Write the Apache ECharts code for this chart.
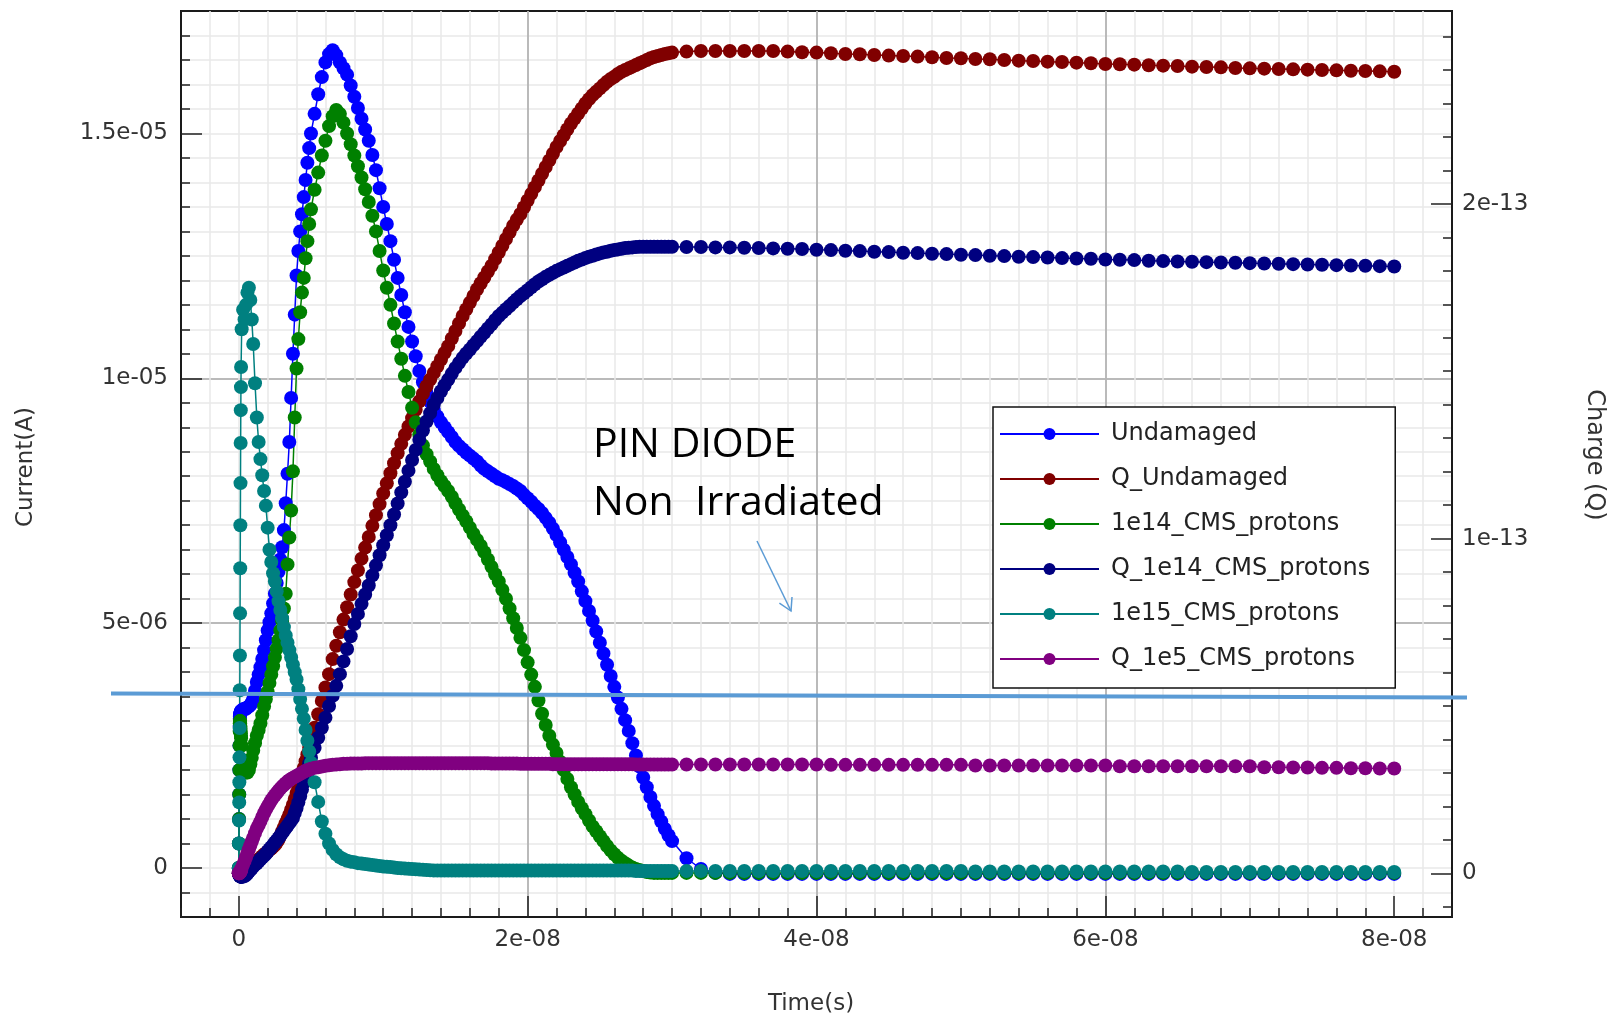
<!DOCTYPE html>
<html>
<head>
<meta charset="utf-8">
<title>PIN diode transient current and charge</title>
<script src="https://cdn.jsdelivr.net/npm/echarts@6/dist/echarts.min.js"></script>
<style>
  html, body { margin: 0; padding: 0; background: #fff; }
  #chart { width: 1611px; height: 1017px; }
</style>
</head>
<body>
<div id="chart"></div>
<script>
// time in ns, currents in uA, charges in units of 1e-14 C
const timeNs = [
  0, 0.01, 0.02, 0.03, 0.04, 0.05, 0.06, 0.07, 0.08, 0.09, 0.1, 0.11, 0.12, 0.13, 0.14, 0.15, 0.16,
  0.2, 0.3, 0.4, 0.5, 0.6, 0.7, 0.8, 0.9,
  1, 1.125, 1.25, 1.375, 1.5, 1.625, 1.75, 1.875, 2, 2.125, 2.25, 2.375, 2.5, 2.625, 2.75, 2.875,
  3, 3.125, 3.25, 3.375, 3.5, 3.625, 3.75, 3.875, 4, 4.125, 4.25, 4.375, 4.5, 4.625, 4.75, 4.875, 5,
  5.25, 5.5, 5.75, 6, 6.25, 6.5, 6.75, 7,
  7.25, 7.5, 7.75, 8, 8.25, 8.5, 8.75, 9, 9.25, 9.5, 9.75, 10, 10.25, 10.5, 10.75, 11,
  11.25, 11.5, 11.75, 12, 12.25, 12.5, 12.75, 13, 13.25, 13.5, 13.75, 14, 14.25, 14.5, 14.75, 15,
  15.25, 15.5, 15.75, 16, 16.25, 16.5, 16.75, 17, 17.25, 17.5, 17.75, 18, 18.25, 18.5, 18.75, 19,
  19.25, 19.5, 19.75, 20, 20.25, 20.5, 20.75, 21, 21.25, 21.5, 21.75, 22, 22.25, 22.5, 22.75, 23,
  23.25, 23.5, 23.75, 24, 24.25, 24.5, 24.75, 25, 25.25, 25.5, 25.75, 26, 26.25, 26.5, 26.75, 27,
  27.25, 27.5, 27.75, 28, 28.25, 28.5, 28.75, 29, 29.25, 29.5, 29.75, 30,
  31, 32, 33, 34, 35, 36, 37, 38, 39, 40, 41, 42, 43, 44, 45, 46, 47, 48, 49, 50,
  51, 52, 53, 54, 55, 56, 57, 58, 59, 60, 61, 62, 63, 64, 65, 66, 67, 68, 69, 70,
  71, 72, 73, 74, 75, 76, 77, 78, 79, 80
];

const iUndamaged = [
  0, 0.5, 1.0, 1.5, 2.0, 2.5, 2.9, 3.05, 3.1, 3.12, 3.14, 3.15, 3.16, 3.17, 3.18, 3.19, 3.2,
  3.22, 3.24, 3.25, 3.25, 3.28, 3.3, 3.33, 3.38,
  3.45, 3.62, 3.8, 3.95, 4.1, 4.27, 4.45, 4.65, 4.85, 5.02, 5.2, 5.4, 5.6, 5.82, 6.05, 6.3,
  6.55, 6.9, 7.45, 8.05, 8.7, 9.6, 10.5, 11.3, 12.1, 12.6, 13.0, 13.35, 13.7, 14.05, 14.4, 14.7, 15.0,
  15.4, 15.8, 16.15, 16.45, 16.62, 16.7, 16.6, 16.45,
  16.33, 16.2, 15.98, 15.75,  15.52, 15.3, 15.08, 14.85,  14.56, 14.25, 13.88, 13.5,  13.15, 12.8, 12.42, 12.05,
  11.7, 11.35, 11.05, 10.75,  10.45, 10.15, 9.92, 9.7,  9.52, 9.35, 9.22, 9.1,  9.0, 8.9, 8.8, 8.7,
  8.62, 8.55, 8.48, 8.42,  8.36, 8.3, 8.22, 8.15,  8.1, 8.05, 8.0, 7.95,  7.92, 7.88, 7.84, 7.8,
  7.75, 7.7, 7.62, 7.55,  7.48, 7.4, 7.33, 7.25,  7.15, 7.05, 6.93, 6.8,  6.65, 6.5, 6.35, 6.2,
  6.03, 5.85, 5.65, 5.45,  5.25, 5.05, 4.83, 4.6,  4.38, 4.15, 3.92, 3.7,  3.48, 3.25, 3.02, 2.8,
  2.55, 2.3, 2.07, 1.85,  1.65, 1.45, 1.27, 1.1,  0.95, 0.8, 0.67, 0.55,
  0.2, -0.02, -0.1, -0.12, -0.12, -0.12, -0.12, -0.12, -0.12, -0.12,
  -0.12, -0.12, -0.12, -0.12, -0.12, -0.12, -0.12, -0.12, -0.12, -0.12,
  -0.12, -0.12, -0.12, -0.12, -0.12, -0.12, -0.12, -0.12, -0.12, -0.12,
  -0.12, -0.12, -0.12, -0.12, -0.12, -0.12, -0.12, -0.12, -0.12, -0.12,
  -0.12, -0.12, -0.12, -0.12, -0.12, -0.12, -0.12, -0.12, -0.12, -0.12
];

const qUndamaged = [
  0, 0, 0, 0, 0, 0.01, 0.01, 0.01, 0.01, 0.02, 0.02, 0.02, 0.02, 0.03, 0.03, 0.03, 0.03,
  0.06, 0.09, 0.12, 0.15, 0.18, 0.2, 0.23, 0.26,
  0.29, 0.33, 0.37, 0.41, 0.46, 0.51, 0.56, 0.6, 0.65, 0.7, 0.74, 0.79, 0.84, 0.92, 1.0, 1.12,
  1.25, 1.37, 1.5, 1.62, 1.75, 1.9, 2.05, 2.22, 2.4, 2.57, 2.75, 2.95, 3.15, 3.35, 3.55, 3.75, 3.95,
  4.35, 4.75, 5.15, 5.55, 5.95, 6.4, 6.8, 7.2,
  7.58, 7.95, 8.33, 8.7,  9.05, 9.4, 9.73, 10.05,  10.38, 10.7, 11.03, 11.35,  11.65, 11.95, 12.25, 12.55,
  12.83, 13.1, 13.35, 13.6,  13.85, 14.1, 14.33, 14.55,  14.75, 14.95, 15.15, 15.35,  15.55, 15.75, 15.98, 16.2,
  16.43, 16.65, 16.85, 17.05,  17.25, 17.45, 17.63, 17.8,  17.98, 18.15, 18.35, 18.55,  18.75, 18.95, 19.15, 19.35,
  19.53, 19.7, 19.9, 20.1,  20.3, 20.5, 20.7, 20.9,  21.1, 21.3, 21.5, 21.7,  21.88, 22.05, 22.23, 22.4,
  22.55, 22.7, 22.85, 23.0,  23.13, 23.25, 23.35, 23.45,  23.55, 23.65, 23.73, 23.8,  23.88, 23.95, 24.0, 24.05,
  24.1, 24.15, 24.2, 24.25,  24.3, 24.35, 24.39, 24.42,  24.45, 24.48, 24.5, 24.52,
  24.55, 24.57, 24.57, 24.57, 24.57, 24.57, 24.57, 24.55, 24.53, 24.52,
  24.5, 24.48, 24.47, 24.45, 24.43, 24.42, 24.4, 24.38, 24.36, 24.35,
  24.33, 24.32, 24.3, 24.28, 24.27, 24.25, 24.24, 24.22, 24.2, 24.18,
  24.17, 24.16, 24.14, 24.13, 24.12, 24.1, 24.09, 24.08, 24.06, 24.05,
  24.04, 24.03, 24.02, 24.01, 24.0, 23.99, 23.98, 23.97, 23.96, 23.95
];

const i1e14 = [
  0, 0.5, 1.0, 1.5, 2.0, 2.5, 2.8, 2.95, 3.0, 3.0, 2.95, 2.9, 2.85, 2.8, 2.75, 2.7, 2.65,
  2.5, 2.2, 2.05, 1.95, 1.95, 2.0, 2.12, 2.25,
  2.4, 2.55, 2.7, 2.82, 2.95, 3.12, 3.3, 3.45, 3.6, 3.78, 3.95, 4.12, 4.3, 4.48, 4.65, 4.85,
  5.05, 5.3, 5.6, 6.2, 6.75, 7.3, 8.1, 9.2, 10.2, 10.8, 11.35, 11.75, 12.05, 12.45, 12.8, 13.15, 13.45,
  13.85, 14.2, 14.55, 14.85, 15.15, 15.35, 15.48, 15.4,
  15.22, 15.0, 14.78, 14.55,  14.33, 14.1, 13.86, 13.6,  13.32, 13.0, 12.6, 12.2,  11.85, 11.5, 11.12, 10.75,
  10.4, 10.05, 9.72, 9.4,  9.1, 8.85, 8.63, 8.45,  8.3, 8.15, 8.02, 7.9,  7.8, 7.7, 7.58, 7.45,
  7.32, 7.2, 7.08, 6.95,  6.82, 6.7, 6.58, 6.45,  6.3, 6.15, 6.0, 5.85,  5.68, 5.5, 5.3, 5.1,
  4.9, 4.7, 4.45, 4.2,  3.95, 3.7, 3.42, 3.15,  2.92, 2.7, 2.52, 2.35,  2.17, 2.0, 1.82, 1.65,
  1.5, 1.35, 1.22, 1.1,  0.97, 0.85, 0.75, 0.65,  0.55, 0.45, 0.36, 0.28,  0.21, 0.15, 0.1, 0.05,
  0.01, -0.02, -0.04, -0.06,  -0.08, -0.09, -0.1, -0.1,  -0.1, -0.1, -0.1, -0.1,
  -0.1, -0.1, -0.1, -0.1, -0.1, -0.1, -0.1, -0.1, -0.1, -0.1,
  -0.1, -0.1, -0.1, -0.1, -0.1, -0.1, -0.1, -0.1, -0.1, -0.1,
  -0.1, -0.1, -0.1, -0.1, -0.1, -0.1, -0.1, -0.1, -0.1, -0.1,
  -0.1, -0.1, -0.1, -0.1, -0.1, -0.1, -0.1, -0.1, -0.1, -0.1,
  -0.1, -0.1, -0.1, -0.1, -0.1, -0.1, -0.1, -0.1, -0.1, -0.1
];

const q1e14 = [
  0, -0.01, -0.02, -0.03, -0.04, -0.05, -0.06, -0.07, -0.07, -0.08, -0.08, -0.09, -0.09, -0.1, -0.1, -0.1, -0.1,
  -0.1, -0.1, -0.08, -0.05, 0, 0.05, 0.1, 0.15,
  0.2, 0.25, 0.3, 0.36, 0.42, 0.47, 0.52, 0.58, 0.65, 0.72, 0.78, 0.85, 0.92, 0.98, 1.05, 1.12,
  1.2, 1.27, 1.35, 1.42, 1.5, 1.57, 1.65, 1.8, 1.95, 2.12, 2.3, 2.5, 2.7, 2.9, 3.1, 3.28, 3.45,
  3.75, 4.05, 4.35, 4.65, 5.0, 5.3, 5.6, 5.95,
  6.33, 6.7, 7.08, 7.45,  7.75, 8.05, 8.33, 8.6,  8.9, 9.2, 9.5, 9.8,  10.1, 10.4, 10.72, 11.05,
  11.38, 11.7, 12.03, 12.35,  12.65, 12.95, 13.23, 13.5,  13.75, 14.0, 14.2, 14.4,  14.58, 14.75, 14.93, 15.1,
  15.25, 15.4, 15.53, 15.65,  15.78, 15.9, 16.03, 16.15,  16.28, 16.4, 16.53, 16.65,  16.75, 16.85, 16.95, 17.05,
  17.15, 17.25, 17.33, 17.42,  17.51, 17.6, 17.68, 17.75,  17.82, 17.88, 17.94, 18.0,  18.05, 18.1, 18.15, 18.2,
  18.25, 18.3, 18.34, 18.38,  18.42, 18.45, 18.49, 18.52,  18.55, 18.57, 18.6, 18.62,  18.64, 18.66, 18.68, 18.69,
  18.7, 18.71, 18.72, 18.72,  18.72, 18.72, 18.72, 18.72,  18.72, 18.72, 18.72, 18.72,
  18.71, 18.71, 18.7, 18.7, 18.69, 18.68, 18.67, 18.66, 18.65, 18.63,
  18.62, 18.6, 18.59, 18.57, 18.56, 18.54, 18.53, 18.51, 18.5, 18.48,
  18.47, 18.45, 18.44, 18.42, 18.41, 18.4, 18.38, 18.37, 18.36, 18.34,
  18.33, 18.32, 18.3, 18.29, 18.28, 18.27, 18.26, 18.25, 18.24, 18.23,
  18.22, 18.21, 18.2, 18.19, 18.18, 18.17, 18.16, 18.15, 18.14, 18.13
];

const i1e15 = [
  0, 0.5, 0.97, 1.34, 1.75, 2.26, 2.86, 3.63, 4.34, 5.2, 6.12, 7.0, 7.86, 8.68, 9.35, 9.82, 10.23,
  11.0, 11.4, 11.2, 11.5, 11.75, 11.85, 11.6, 11.2,
  10.7, 9.9, 9.2, 8.7, 8.35, 8.02, 7.7, 7.4, 6.95, 6.5, 6.25, 6.02, 5.85, 5.65, 5.45, 5.27,
  5.1, 4.92, 4.75, 4.6, 4.45, 4.3, 4.15, 4.0, 3.85, 3.65, 3.45, 3.25, 3.05, 2.82, 2.6, 2.38, 2.15,
  1.75, 1.35, 0.95, 0.7, 0.5, 0.37, 0.28, 0.22,
  0.18, 0.15, 0.13, 0.12,  0.1, 0.09, 0.08, 0.07,  0.06, 0.05, 0.04, 0.03,  0.025, 0.02, 0.01, 0,
  -0.005, -0.01, -0.015, -0.02,  -0.025, -0.03, -0.035, -0.04,  -0.045, -0.05, -0.05, -0.05,  -0.05, -0.05, -0.05, -0.05,
  -0.05, -0.05, -0.05, -0.05,  -0.05, -0.05, -0.05, -0.05,  -0.05, -0.05, -0.05, -0.05,  -0.05, -0.05, -0.05, -0.05,
  -0.05, -0.05, -0.05, -0.05,  -0.05, -0.05, -0.05, -0.05,  -0.05, -0.05, -0.05, -0.05,  -0.05, -0.05, -0.05, -0.05,
  -0.05, -0.05, -0.05, -0.05,  -0.05, -0.05, -0.05, -0.05,  -0.05, -0.05, -0.05, -0.05,  -0.05, -0.05, -0.05, -0.05,
  -0.05, -0.06, -0.06, -0.06,  -0.06, -0.06, -0.06, -0.06,  -0.06, -0.06, -0.06, -0.06,
  -0.06, -0.06, -0.06, -0.06, -0.06, -0.06, -0.06, -0.06, -0.06, -0.06,
  -0.06, -0.06, -0.06, -0.06, -0.06, -0.06, -0.06, -0.06, -0.06, -0.06,
  -0.07, -0.07, -0.07, -0.07, -0.07, -0.07, -0.07, -0.07, -0.07, -0.07,
  -0.07, -0.07, -0.07, -0.07, -0.07, -0.08, -0.08, -0.08, -0.08, -0.08,
  -0.08, -0.08, -0.08, -0.08, -0.08, -0.08, -0.08, -0.08, -0.08, -0.08
];

const q1e5 = [
  0, 0, 0, 0.01, 0.01, 0.01, 0.02, 0.02, 0.03, 0.03, 0.04, 0.05, 0.06, 0.07, 0.08, 0.09, 0.1,
  0.15, 0.26, 0.37, 0.48, 0.6, 0.72, 0.83, 0.95,
  1.06, 1.2, 1.33, 1.44, 1.55, 1.68, 1.8, 1.9, 2.0, 2.09, 2.18, 2.26, 2.33, 2.4, 2.47, 2.53,
  2.59, 2.64, 2.69, 2.74, 2.78, 2.82, 2.85, 2.88, 2.91, 2.94, 2.97, 3.0, 3.03, 3.06, 3.08, 3.1, 3.12,
  3.15, 3.17, 3.19, 3.21, 3.23, 3.24, 3.25, 3.26,
  3.27, 3.27, 3.28, 3.28,  3.28, 3.28, 3.29, 3.29,  3.29, 3.29, 3.29, 3.29,  3.29, 3.29, 3.29, 3.29,
  3.29, 3.29, 3.29, 3.29,  3.29, 3.29, 3.29, 3.29,  3.29, 3.29, 3.29, 3.29,  3.29, 3.29, 3.29, 3.29,
  3.29, 3.29, 3.29, 3.29,  3.29, 3.29, 3.29, 3.29,  3.29, 3.28, 3.28, 3.28,  3.28, 3.28, 3.28, 3.28,
  3.28, 3.27, 3.27, 3.27,  3.27, 3.27, 3.27, 3.27,  3.27, 3.27, 3.26, 3.26,  3.26, 3.26, 3.26, 3.26,
  3.26, 3.26, 3.26, 3.26,  3.26, 3.26, 3.26, 3.26,  3.26, 3.26, 3.26, 3.26,  3.26, 3.26, 3.26, 3.26,
  3.26, 3.25, 3.25, 3.25,  3.25, 3.25, 3.25, 3.25,  3.25, 3.25, 3.25, 3.25,
  3.25, 3.25, 3.25, 3.25, 3.25, 3.25, 3.25, 3.25, 3.25, 3.25,
  3.24, 3.24, 3.24, 3.24, 3.24, 3.24, 3.24, 3.24, 3.24, 3.24,
  3.22, 3.22, 3.22, 3.22, 3.22, 3.22, 3.22, 3.22, 3.22, 3.22,
  3.2, 3.2, 3.2, 3.2, 3.2, 3.2, 3.2, 3.2, 3.2, 3.2,
  3.17, 3.17, 3.16, 3.16, 3.15, 3.15, 3.14, 3.14, 3.13, 3.13
];

const xMajorTicks = [0, 20, 40, 60, 80];
const currentMajorTicks = [0, 5, 10, 15];
const chargeMinorTicks = [-1, 0, 1, 2, 3, 4, 5, 6, 7, 8, 9, 10, 11, 12, 13, 14, 15, 16, 17, 18, 19, 20, 21, 22, 23, 24, 25];
const chargeMajorTicks = [0, 10, 20];

const sci = v => {
    if (Math.abs(v) < 1e-30) return '0';
    return Number(v.toPrecision(6)).toExponential().replace(/e([+-])(\d)$/, 'e$10$2');
};

const pairs = vals => vals.map((v, i) => [timeNs[i], v]).filter(p => p[0] !== undefined);

const makeSeries = (name, color, vals, yAxisIndex) => ({
    name: name,
    type: 'line',
    xAxisIndex: 0,
    yAxisIndex: yAxisIndex,
    data: pairs(vals),
    symbol: 'circle',
    symbolSize: 14,
    showSymbol: true,
    showAllSymbol: true,
    color: color,
    itemStyle: { color: color },
    lineStyle: { color: color, width: 1.5 },
    emphasis: { disabled: true },
    clip: true
});

const labelFont = { fontFamily: 'DejaVu Sans', fontSize: 23, color: '#333' };
const tickLine = { color: '#222', width: 1.5 };
const nameFont = { fontFamily: 'DejaVu Sans', fontSize: 23, fill: '#333', align: 'center', verticalAlign: 'middle' };

const chart = echarts.init(document.getElementById('chart'), null, { renderer: 'canvas' });

chart.setOption({
    animation: false,
    backgroundColor: '#fff',
    grid: {
        left: 181, top: 11, right: 159, bottom: 100,
        show: true, borderColor: '#1a1a1a', borderWidth: 2,
        containLabel: false, outerBoundsMode: 'none'
    },
    xAxis: [
        {
            type: 'value', position: 'bottom', min: -4, max: 84, interval: 2,
            axisLine: { show: true, onZero: false, lineStyle: { color: '#1a1a1a', width: 2 } },
            axisTick: { show: true, inside: true, length: 9, lineStyle: tickLine },
            axisLabel: { show: false },
            splitLine: { show: true, showMinLine: false, showMaxLine: false, lineStyle: { color: '#e8e8e8', width: 1.5 } }
        },
        {
            type: 'value', position: 'bottom', min: -4, max: 84, splitNumber: 5,
            axisLine: { show: false, onZero: false },
            axisTick: { show: true, inside: true, length: 21, customValues: xMajorTicks, lineStyle: tickLine },
            axisLabel: { show: true, customValues: xMajorTicks, margin: 12, formatter: v => sci(v * 1e-9), ...labelFont },
            splitLine: { show: true, showMinLine: false, showMaxLine: false, lineStyle: { color: '#a9a9a9', width: 1.5 } }
        }
    ],
    yAxis: [
        {
            type: 'value', position: 'left', min: -1, max: 17.5, interval: 0.5,
            axisLine: { show: true, onZero: false, lineStyle: { color: '#1a1a1a', width: 2 } },
            axisTick: { show: true, inside: true, length: 9, lineStyle: tickLine },
            axisLabel: { show: false },
            splitLine: { show: true, showMinLine: false, showMaxLine: false, lineStyle: { color: '#e8e8e8', width: 1.5 } }
        },
        {
            type: 'value', position: 'left', min: -1, max: 17.5, splitNumber: 4,
            axisLine: { show: false, onZero: false },
            axisTick: { show: true, inside: true, length: 21, customValues: currentMajorTicks, lineStyle: tickLine },
            axisLabel: { show: true, customValues: currentMajorTicks, margin: 13, formatter: v => sci(v * 1e-6), ...labelFont },
            splitLine: { show: true, showMinLine: false, showMaxLine: false, lineStyle: { color: '#a9a9a9', width: 1.5 } }
        },
        {
            type: 'value', position: 'right', min: -1.306, max: 25.763,
            axisLine: { show: true, onZero: false, lineStyle: { color: '#1a1a1a', width: 2 } },
            axisTick: { show: true, inside: true, length: 9, customValues: chargeMinorTicks, lineStyle: tickLine },
            axisLabel: { show: false },
            splitLine: { show: false }
        },
        {
            type: 'value', position: 'right', min: -1.306, max: 25.763, splitNumber: 3,
            axisLine: { show: false, onZero: false },
            axisTick: { show: true, inside: true, length: 21, customValues: chargeMajorTicks, lineStyle: tickLine },
            axisLabel: { show: true, customValues: chargeMajorTicks, margin: 10, formatter: v => sci(v * 1e-14), ...labelFont },
            splitLine: { show: false }
        }
    ],
    legend: {
        left: 993, top: 407, orient: 'vertical',
        padding: [13, 25, 15, 6], itemGap: 17,
        itemWidth: 99, itemHeight: 15,
        backgroundColor: '#fff', borderColor: '#111', borderWidth: 1.5, borderRadius: 0,
        textStyle: { fontFamily: 'DejaVu Sans', fontSize: 24, color: '#222', lineHeight: 28, padding: [0, 0, 0, 7] },
        data: ['Undamaged', 'Q_Undamaged', '1e14_CMS_protons', 'Q_1e14_CMS_protons', '1e15_CMS_protons', 'Q_1e5_CMS_protons']
    },
    series: [
        makeSeries('Undamaged', '#0000ff', iUndamaged, 0),
        makeSeries('Q_Undamaged', '#800000', qUndamaged, 2),
        makeSeries('1e14_CMS_protons', '#008000', i1e14, 0),
        makeSeries('Q_1e14_CMS_protons', '#000080', q1e14, 2),
        makeSeries('1e15_CMS_protons', '#008080', i1e15, 0),
        makeSeries('Q_1e5_CMS_protons', '#800080', q1e5, 2)
    ],
    graphic: [
        { type: 'line', z: 100, shape: { x1: 111, y1: 693.5, x2: 1467, y2: 697.6 }, style: { stroke: '#5b9bd5', lineWidth: 4 } },
        { type: 'line', z: 100, shape: { x1: 757, y1: 541, x2: 791, y2: 611 }, style: { stroke: '#5b9bd5', lineWidth: 1.5 } },
        { type: 'polyline', z: 100, shape: { points: [[779.4, 603.1], [791, 611], [792, 597]] }, style: { stroke: '#5b9bd5', lineWidth: 1.5, fill: null } },
        { type: 'text', z: 100, x: 593, y: 445, style: { text: 'PIN DIODE', fontFamily: 'Open Sans', fontSize: 41, fill: '#000', align: 'left', verticalAlign: 'middle' } },
        { type: 'text', z: 100, x: 593, y: 503, style: { text: 'Non  Irradiated', fontFamily: 'Open Sans', fontSize: 41, fill: '#000', align: 'left', verticalAlign: 'middle' } },
        { type: 'text', z: 100, x: 26, y: 467, rotation: Math.PI / 2, style: { text: 'Current(A)', ...nameFont } },
        { type: 'text', z: 100, x: 811, y: 1004, style: { text: 'Time(s)', ...nameFont } },
        { type: 'text', z: 100, x: 1594, y: 455, rotation: -Math.PI / 2, style: { text: 'Charge (Q)', ...nameFont, fontSize: 24 } }
    ]
});
</script>
</body>
</html>
